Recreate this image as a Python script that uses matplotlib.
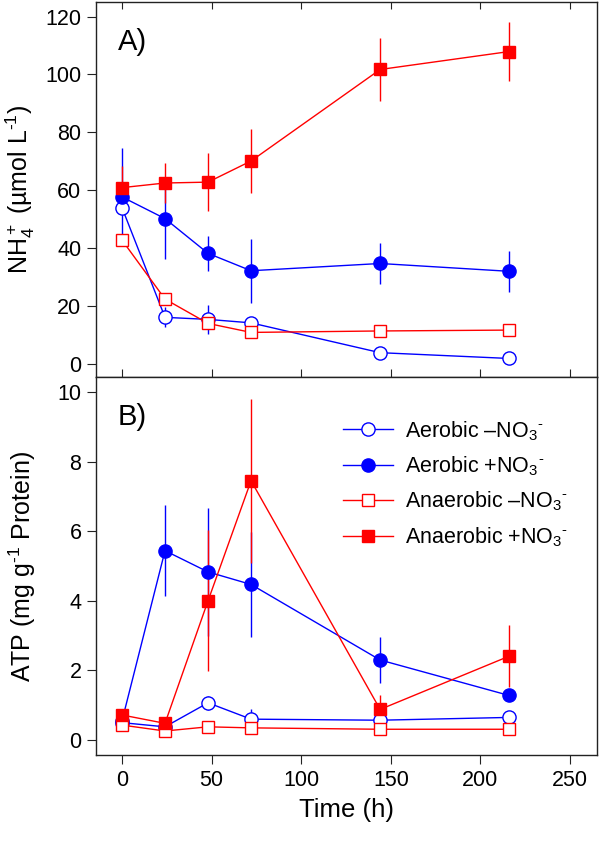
import numpy as np
import matplotlib
matplotlib.use('Agg')
import matplotlib.pyplot as plt
from matplotlib.lines import Line2D

plt.rcParams['font.family'] = ['Liberation Sans', 'DejaVu Sans']
plt.rcParams['mathtext.fontset'] = 'custom'
plt.rcParams['mathtext.rm'] = 'Liberation Sans'
plt.rcParams['mathtext.it'] = 'Liberation Sans:italic'
plt.rcParams['mathtext.default'] = 'regular'

# sampling times (h)
time = [0, 24, 48, 72, 144, 216]

# A) NH4+ (umol L-1)
nh4_aer_minus = [54, 16.1, 15.4, 14.2, 3.9, 1.9]
nh4_aer_minus_err = [0, 3.5, 5, 2, 0, 0]
nh4_aer_plus = [57.7, 50.2, 38.2, 32.2, 34.7, 32]
nh4_aer_plus_err = [17, 14, 6, 11, 7, 7]
nh4_ana_minus = [42.8, 22.4, 14, 10.9, 11.4, 11.7]
nh4_ana_minus_err = [0, 2, 0, 0, 0, 0]
nh4_ana_plus = [60.9, 62.5, 62.8, 70.1, 101.7, 107.9]
nh4_ana_plus_err = [7.5, 7, 10, 11, 11, 10.3]

# B) ATP (mg g-1 protein)
atp_aer_minus = [0.5, 0.38, 1.07, 0.6, 0.57, 0.65]
atp_aer_minus_err = [0, 0, 0.2, 0.3, 0, 0]
atp_aer_plus = [0.55, 5.44, 4.83, 4.47, 2.3, 1.28]
atp_aer_plus_err = [0, 1.3, 1.85, 1.5, 0.65, 0]
atp_ana_minus = [0.43, 0.26, 0.38, 0.35, 0.31, 0.31]
atp_ana_minus_err = [0, 0, 0, 0, 0, 0]
atp_ana_plus = [0.72, 0.48, 4.0, 7.45, 0.88, 2.41]
atp_ana_plus_err = [0, 0, 2.03, 2.35, 0.4, 0.9]

hy = '\u2010'  # short hyphen for superscripts
labels = ['Aerobic \u2013NO$_3$$^{' + hy + '}$', 'Aerobic +NO$_3$$^{' + hy + '}$',
          'Anaerobic \u2013NO$_3$$^{' + hy + '}$', 'Anaerobic +NO$_3$$^{' + hy + '}$']
styles = [dict(color='blue', marker='o', mfc='white'),
          dict(color='blue', marker='o', mfc='blue'),
          dict(color='red', marker='s', mfc='white'),
          dict(color='red', marker='s', mfc='red')]

fig = plt.figure(figsize=(6, 8.47), dpi=100)
ax1 = fig.add_axes([0.16, 0.5549, 0.835, 0.4427])
ax2 = fig.add_axes([0.16, 0.1086, 0.835, 0.4463])

series_a = [(nh4_aer_minus, nh4_aer_minus_err), (nh4_aer_plus, nh4_aer_plus_err),
            (nh4_ana_minus, nh4_ana_minus_err), (nh4_ana_plus, nh4_ana_plus_err)]
series_b = [(atp_aer_minus, atp_aer_minus_err), (atp_aer_plus, atp_aer_plus_err),
            (atp_ana_minus, atp_ana_minus_err), (atp_ana_plus, atp_ana_plus_err)]

for ax, series in [(ax1, series_a), (ax2, series_b)]:
    for (vals, err), st in zip(series, styles):
        ax.errorbar(time, vals, yerr=err, color=st['color'], marker=st['marker'],
                    mfc=st['mfc'], mec=st['color'], ms=9.5 if st['marker'] == 'o' else 9,
                    lw=1, elinewidth=1, capsize=0)
    ax.set_xlim(-14.5, 265)
    ax.set_xticks([0, 50, 100, 150, 200, 250])
    for sp in ax.spines.values():
        sp.set_linewidth(1)
        sp.set_color('#222222')
    ax.tick_params(axis='y', direction='out', length=6.5, pad=4, labelsize=15.5,
                   right=False, color='#222222')
    ax.tick_params(axis='x', labelsize=15.5, color='#222222')

ax1.set_ylim(-4.5, 125)
ax1.set_yticks([0, 20, 40, 60, 80, 100, 120])
ax1.tick_params(axis='x', bottom=True, top=False, direction='inout',
                length=11, labelbottom=False)
top = ax1.secondary_xaxis('top')
top.set_xticks([0, 50, 100, 150, 200, 250])
top.tick_params(axis='x', direction='in', length=5, labeltop=False, color='#222222')
top.spines['top'].set_visible(False)
ax1.set_ylabel('NH$_4^+$ (\u00b5mol L$^{' + hy + '1}$)', fontsize=18, labelpad=6)
ax1.text(0.043, 0.893, 'A)', transform=ax1.transAxes, fontsize=21, va='center')

ax2.set_ylim(-0.43, 10.43)
ax2.set_yticks([0, 2, 4, 6, 8, 10])
ax2.tick_params(axis='x', direction='out', length=6.5, pad=4, top=False)
ax2.set_ylabel('ATP (mg g$^{' + hy + '1}$ Protein)', fontsize=18, labelpad=14)
ax2.set_xlabel('Time (h)', fontsize=18.5, labelpad=5)
ax2.text(0.043, 0.893, 'B)', transform=ax2.transAxes, fontsize=21, va='center')

handles = [Line2D([], [], color=st['color'], marker=st['marker'], mfc=st['mfc'],
                  mec=st['color'], ms=9.5 if st['marker'] == 'o' else 9, lw=1)
           for st in styles]
ax2.legend(handles, labels, loc='upper left', bbox_to_anchor=(0.493, 0.889),
           frameon=False, fontsize=15.5, handlelength=2.3, handletextpad=0.6,
           labelspacing=0.55, borderaxespad=0, borderpad=0)

fig.savefig('out.png', dpi=100)
